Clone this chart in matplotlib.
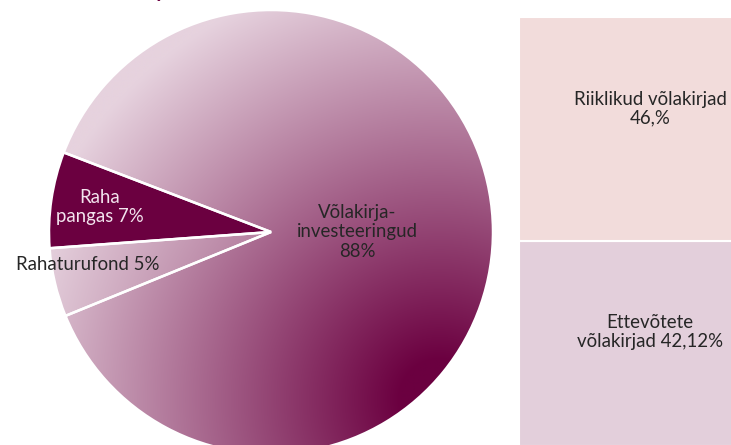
import numpy as np
import matplotlib
matplotlib.use("Agg")
import matplotlib.pyplot as plt

# ---- data ----
pie_labels = ["Raha\npangas 7%", "Rahaturufond 5%", "Võlakirja-\ninvesteeringud\n88%"]
pie_values = [7, 5, 88]
bond_labels = ["Ettevõtete\nvõlakirjad 42,12%", "Riiklikud võlakirjad\n46,%"]
bond_values = [42.12, 46]

plt.rcParams['font.family'] = ['Lato', 'DejaVu Sans']

W, H = 731, 445
fig = plt.figure(figsize=(W / 100, H / 100), dpi=100)
fig.patch.set_facecolor('white')

# ---- pie axes (center 271,232 px, radius 222 px) ----
cx, cy, R = 271, 232, 222
ax = fig.add_axes([(cx - R) / W, (H - cy - R) / H, 2 * R / W, 2 * R / H])
wedges, _ = ax.pie(pie_values, startangle=159, counterclock=True,
                   wedgeprops=dict(edgecolor='white', linewidth=1.8))
ax.set_xlim(-1, 1)
ax.set_ylim(-1, 1)
ax.axis('off')

# radial gradient (dark spot lower right)
n = 500
xs = np.linspace(-1, 1, n)
X, Y = np.meshgrid(xs, xs)
fx, fy = (440 - cx) / R, -(400 - cy) / R
d = np.hypot(X - fx, Y - fy) * R
t = np.clip((d - 40) / 400, 0, 1)[..., None]
dark = np.array([107, 0, 64]) / 255
light = np.array([230, 210, 222]) / 255
grad = dark * (1 - t) + light * t
grad_light = grad * 0.85 + 0.15

solid = '#6b0040'
fills = [None, grad_light, grad]
for w, f in zip(wedges, fills):
    if f is None:
        w.set_facecolor(solid)
        w.set_zorder(3)
    else:
        im = ax.imshow(f, extent=(-1, 1, -1, 1), origin='lower',
                       interpolation='bilinear', zorder=2)
        im.set_clip_path(w)
        w.set_facecolor('none')
        w.set_zorder(3)

def px2data(px, py):
    return (px - cx) / R, -(py - cy) / R

fs = 13.4
ax.text(*px2data(100, 207), pie_labels[0], ha='center', va='center',
        fontsize=fs, color='#f3e4ee', linespacing=1.2, zorder=5)
ax.text(*px2data(87.5, 265), pie_labels[1], ha='center', va='center',
        fontsize=fs, color='#262626', zorder=5)
ax.text(*px2data(357, 232), pie_labels[2], ha='center', va='center',
        fontsize=fs, color='#262626', linespacing=1.15, zorder=5)

# ---- right stacked bar ----
top_px, bot_px = 17, 446
left_px, right_px = 519, 781
ax2 = fig.add_axes([left_px / W, (H - bot_px) / H, (right_px - left_px) / W,
                    (bot_px - top_px) / H])
colors = ['#e3cfdb', '#f2dcdb']
bottom = 0
for v, c, lab, frac in zip(bond_values, colors, bond_labels, [0.556, 0.59]):
    ax2.bar(0, v, width=1, bottom=bottom, align='edge', color=c,
            edgecolor='white', linewidth=1.5)
    ax2.text(0.5, bottom + v * frac, lab, ha='center', va='center',
             fontsize=fs, color='#262626', linespacing=1.08)
    bottom += v
ax2.set_xlim(0, 1)
ax2.set_ylim(0, sum(bond_values))
ax2.axis('off')

# cropped title remnant (title lies above the visible area)
fig.text(160 / W, 1 + 3 / H, "y", ha='center', va='baseline', fontsize=15,
         fontweight='bold', color='#6b0040')

fig.savefig('out.png', dpi=100)
